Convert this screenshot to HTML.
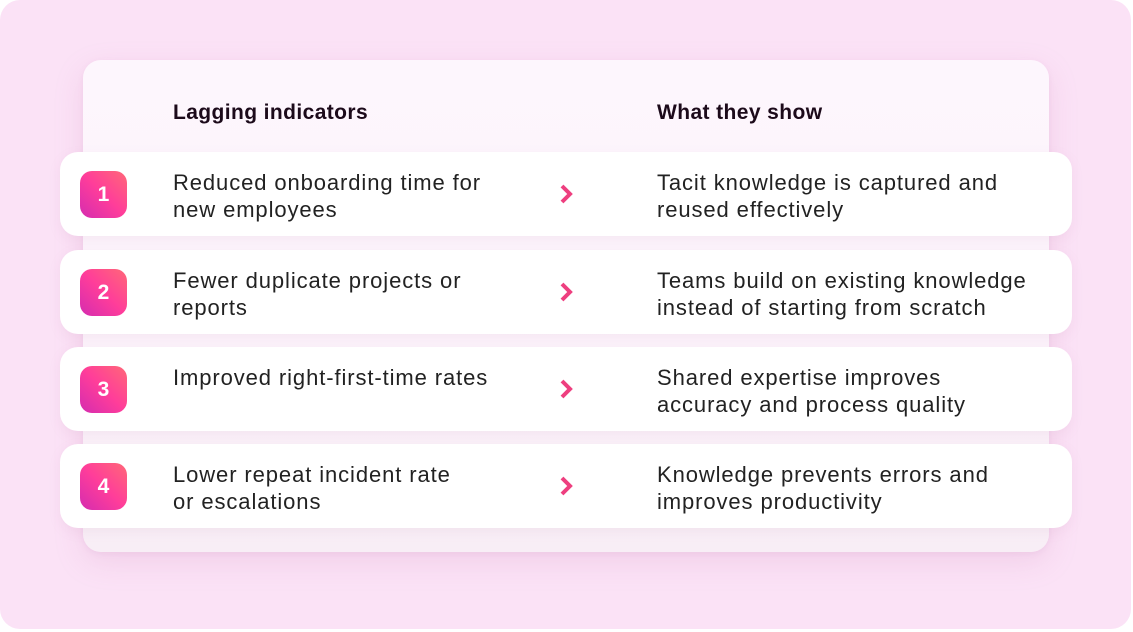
<!DOCTYPE html>
<html><head><meta charset="utf-8"><style>
html,body{margin:0;padding:0;background:#fff;}
body{width:1133px;height:632px;position:relative;overflow:hidden;font-family:"Liberation Sans",Arial,sans-serif;}
.outer{position:absolute;left:0;top:0;width:1131px;height:629px;border-radius:20px;background:#fbe2f6;}
.card{position:absolute;left:83px;top:60px;width:966px;height:492px;border-radius:18px;background:linear-gradient(#fdf6fd,#fcf3fb 60%,#f8eef6);box-shadow:0 10px 30px rgba(200,120,180,0.18),0 2px 6px rgba(200,140,190,0.12);}
.hdr{position:absolute;top:101px;font-weight:bold;font-size:21px;color:#1c0a1a;letter-spacing:0.4px;}
.row{position:absolute;left:60px;width:1012px;height:84px;border-radius:18px;background:#fff;box-shadow:0 4px 12px rgba(190,130,170,0.10);}
.badge{position:absolute;left:20px;top:19px;width:47px;height:47px;border-radius:12px;background:linear-gradient(45deg,#d42cb0 0%,#ff3d9a 50%,#ff6878 100%);color:#fff;font-weight:bold;font-size:21px;text-align:center;line-height:47px;}
.t{position:absolute;top:17px;font-size:22px;line-height:27px;color:#222;letter-spacing:0.9px;white-space:nowrap;}
.l{left:113px;}
.r{left:597px;}
.chev{position:absolute;left:499px;top:31px;width:16px;height:22px;}
</style></head><body>
<div class="outer"></div>
<div class="card"></div>
<div class="hdr" style="left:173px;">Lagging indicators</div>
<div class="hdr" style="left:657px;">What they show</div>

<div class="row" style="top:152px;">
<div class="badge">1</div>
<div class="t l">Reduced onboarding time for<br>new employees</div>
<svg class="chev" viewBox="0 0 16 22"><path d="M3 3 L11 11 L3 19" stroke="#ee3f7f" stroke-width="4" fill="none"/></svg>
<div class="t r">Tacit knowledge is captured and<br>reused effectively</div>
</div>

<div class="row" style="top:250px;">
<div class="badge">2</div>
<div class="t l">Fewer duplicate projects or<br>reports</div>
<svg class="chev" viewBox="0 0 16 22"><path d="M3 3 L11 11 L3 19" stroke="#ee3f7f" stroke-width="4" fill="none"/></svg>
<div class="t r">Teams build on existing knowledge<br>instead of starting from scratch</div>
</div>

<div class="row" style="top:347px;">
<div class="badge">3</div>
<div class="t l">Improved right-first-time rates</div>
<svg class="chev" viewBox="0 0 16 22"><path d="M3 3 L11 11 L3 19" stroke="#ee3f7f" stroke-width="4" fill="none"/></svg>
<div class="t r">Shared expertise improves<br>accuracy and process quality</div>
</div>

<div class="row" style="top:444px;">
<div class="badge">4</div>
<div class="t l">Lower repeat incident rate<br>or escalations</div>
<svg class="chev" viewBox="0 0 16 22"><path d="M3 3 L11 11 L3 19" stroke="#ee3f7f" stroke-width="4" fill="none"/></svg>
<div class="t r">Knowledge prevents errors and<br>improves productivity</div>
</div>
</body></html>
